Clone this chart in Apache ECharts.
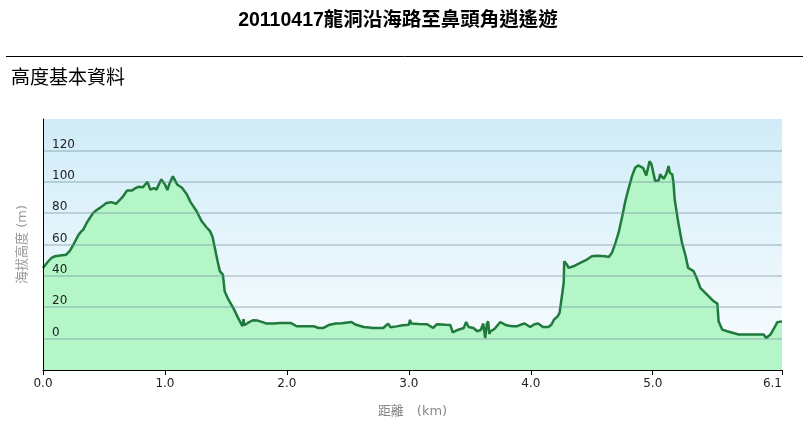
<!DOCTYPE html>
<html>
<head>
<meta charset="utf-8">
<script src="https://cdn.jsdelivr.net/npm/echarts@6/dist/echarts.min.js"></script>
<style>
html,body{margin:0;padding:0;background:#fff;}
#chart{width:808px;height:423px;}
</style>
</head>
<body>
<div id="chart"></div>
<script>
var titleText = '20110417龍洞沿海路至鼻頭角逍遙遊';
var subTitleText = '高度基本資料';
var xAxisName = '距離　(km)';
var yAxisName = '海拔高度 (m)';

var xTickValues = [0, 1, 2, 3, 4, 5, 6.06];
var xTickLabels = ['0.0', '1.0', '2.0', '3.0', '4.0', '5.0', '6.1'];

var distKm = [
  0.00, 0.04, 0.07, 0.10, 0.14, 0.19, 0.22, 0.25, 0.29, 0.31, 0.33, 0.36, 0.41, 0.44, 0.47, 0.52, 0.56, 0.60,
  0.65, 0.69, 0.73, 0.76, 0.78, 0.82, 0.856, 0.88, 0.91, 0.93, 0.97, 1.00, 1.02, 1.04, 1.065, 1.10, 1.14, 1.18,
  1.21, 1.26, 1.30, 1.34, 1.37, 1.39, 1.40, 1.43, 1.45, 1.475, 1.49, 1.52, 1.56, 1.60, 1.615, 1.635, 1.645, 1.65,
  1.68, 1.72, 1.76, 1.80, 1.835, 1.89, 1.944, 2.03, 2.08, 2.15, 2.22, 2.26, 2.30, 2.35, 2.40, 2.45, 2.53, 2.56,
  2.63, 2.71, 2.79, 2.83, 2.85, 2.90, 2.95, 3.00, 3.01, 3.02, 3.08, 3.15, 3.20, 3.23, 3.30, 3.34, 3.36, 3.40,
  3.45, 3.47, 3.49, 3.53, 3.56, 3.59, 3.61, 3.626, 3.64, 3.65, 3.66, 3.67, 3.70, 3.75, 3.80, 3.85, 3.89, 3.92,
  3.95, 3.995, 4.03, 4.06, 4.10, 4.145, 4.17, 4.19, 4.22, 4.236, 4.255, 4.27, 4.274, 4.296, 4.31, 4.35, 4.405, 4.43,
  4.46, 4.50, 4.54, 4.61, 4.64, 4.665, 4.69, 4.72, 4.75, 4.775, 4.80, 4.83, 4.856, 4.88, 4.92, 4.947, 4.974, 4.99,
  5.02, 5.05, 5.06, 5.09, 5.11, 5.13, 5.14, 5.16, 5.17, 5.18, 5.21, 5.24, 5.27, 5.29, 5.335, 5.36, 5.39, 5.445,
  5.50, 5.53, 5.54, 5.57, 5.61, 5.66, 5.705, 5.77, 5.84, 5.91, 5.93, 5.965, 6.005, 6.02, 6.06
];
var elevM = [
  45, 49, 51.5, 52.5, 53, 53.5, 56, 60, 66, 68, 69.5, 74, 80, 82, 83.5, 86.5, 87, 86,
  90, 94.5, 94.5, 96, 96.8, 96.5, 100, 95, 96, 95, 101.5, 98.3, 94.7, 99.4, 103.4, 98.3, 96.2, 91.9,
  87, 81.2, 75, 71, 68.5, 65, 64, 50, 43, 40.8, 30, 25, 19.6, 13.2, 12, 8, 12.5, 8.5,
  10, 11.7, 11.5, 10.5, 9.6, 9.6, 10, 10, 7.9, 7.9, 7.9, 6.8, 6.8, 8.9, 9.6, 9.8, 10.6, 9,
  7.4, 6.8, 6.8, 9.6, 7.2, 7.8, 8.5, 8.9, 12, 9.6, 9.4, 9.2, 6.8, 9.2, 8.8, 8.7, 4, 5.5,
  6.8, 10.6, 7.4, 6.8, 4.7, 5.5, 9.6, 0.4, 9.5, 11, 3, 4.7, 6, 10.6, 8.5, 7.9, 7.9, 9,
  9.6, 7.4, 9.2, 9.6, 7.4, 7.4, 9, 12.1, 14.2, 16.4, 27, 35.5, 49.3, 47.2, 45.1, 46.1, 48.3, 49.3,
  50.4, 52.5, 52.9, 52.5, 52.1, 54.7, 60, 67.5, 78, 87.6, 95.1, 103.6, 108.9, 110.4, 108.9, 104, 113.1, 111,
  100.4, 101, 104.7, 101.9, 104.7, 110, 105.7, 104.7, 99.4, 88.7, 73.8, 61.1, 52.5, 45.1, 43, 38.7, 32.4, 28.1,
  23.8, 22.3, 11, 5.7, 4.7, 3.6, 2.6, 2.6, 2.6, 2.6, 0.4, 2.6, 7.9, 10.4, 11
];

var seriesData = distKm.map(function (d, i) { return [d, elevM[i]]; });

var chart = echarts.init(document.getElementById('chart'), null, {renderer: 'canvas'});
chart.setOption({
  animation: false,
  backgroundColor: '#ffffff',
  title: [{
    text: titleText,
    left: 393,
    top: 6,
    textAlign: 'center',
    textStyle: {fontFamily: '"Liberation Sans", "Noto Sans CJK TC", sans-serif', fontSize: 19.5, fontWeight: 'bold', color: '#000'}
  }, {
    text: subTitleText,
    left: 6,
    top: 62,
    textStyle: {fontFamily: '"Noto Sans CJK TC", sans-serif', fontSize: 19, fontWeight: 'normal', color: '#000'}
  }],
  graphic: [{
    type: 'line',
    shape: {x1: 6, y1: 56.5, x2: 803, y2: 56.5},
    style: {stroke: '#000', lineWidth: 1}
  }],
  grid: {
    left: 43, right: 26, top: 119, bottom: 52,
    show: true,
    borderWidth: 0,
    backgroundColor: {
      type: 'linear', x: 0, y: 0, x2: 0, y2: 1,
      colorStops: [{offset: 0, color: '#d0ecf8'}, {offset: 1, color: '#fbfdff'}]
    }
  },
  xAxis: {
    type: 'value',
    min: 0,
    max: xTickValues[xTickValues.length - 1],
    name: xAxisName,
    nameLocation: 'middle',
    nameGap: 35,
    nameTextStyle: {color: '#888', fontSize: 13, fontFamily: '"DejaVu Sans", "Noto Sans CJK TC", sans-serif'},
    axisLine: {show: true, onZero: false, lineStyle: {color: '#000', width: 1}},
    axisTick: {show: true, length: 5, lineStyle: {color: '#000'}, customValues: xTickValues},
    axisLabel: {
      customValues: xTickValues,
      formatter: function (v) {
        var idx = xTickValues.indexOf(v);
        return idx >= 0 ? xTickLabels[idx] : '';
      },
      alignMaxLabel: 'right',
      margin: 8,
      color: '#222',
      fontSize: 12,
      fontFamily: '"DejaVu Sans", sans-serif'
    },
    splitLine: {show: false}
  },
  yAxis: {
    type: 'value',
    min: -20,
    max: 140,
    interval: 20,
    z: 5,
    name: yAxisName,
    nameLocation: 'middle',
    nameRotate: 90,
    nameGap: 14,
    nameTextStyle: {color: '#999', fontSize: 13, fontFamily: '"DejaVu Sans", "Noto Sans CJK TC", sans-serif'},
    axisLine: {show: true, onZero: false, lineStyle: {color: '#000', width: 1}},
    axisTick: {show: false},
    axisLabel: {
      inside: true,
      margin: 9,
      verticalAlign: 'bottom',
      showMinLabel: false,
      showMaxLabel: false,
      color: '#222',
      fontSize: 12,
      fontFamily: '"DejaVu Sans", sans-serif'
    },
    splitLine: {
      show: true,
      showMinLine: false,
      showMaxLine: false,
      lineStyle: {color: 'rgba(110,140,155,0.45)', width: 1.5}
    }
  },
  series: [{
    type: 'line',
    data: seriesData,
    showSymbol: false,
    smooth: false,
    z: 2,
    lineStyle: {color: '#1f7a3c', width: 2.5},
    areaStyle: {color: '#b5f6c9', opacity: 1, origin: 'start'}
  }]
});
</script>
</body>
</html>
